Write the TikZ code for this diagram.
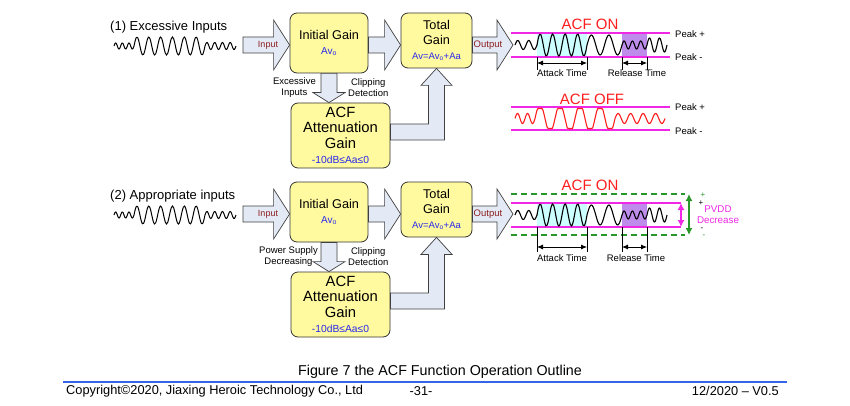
\documentclass[tikz,border=0pt]{standalone}
\usepackage{fontspec}
\setmainfont{Liberation Sans}
\usetikzlibrary{calc,arrows.meta}

\definecolor{boxyel}{RGB}{255,250,160}
\definecolor{arrbg}{RGB}{228,234,245}
\definecolor{lblue}{RGB}{40,40,235}
\definecolor{dred}{RGB}{140,30,30}
\definecolor{onred}{RGB}{255,30,30}
\definecolor{pk}{RGB}{240,40,230}
\definecolor{gdash}{RGB}{40,150,40}
\definecolor{cyanbg}{RGB}{204,255,255}
\definecolor{purbg}{RGB}{190,140,235}
\definecolor{rulebl}{RGB}{51,102,230}

\newcommand\fs[2]{\fontsize{#1}{#2}\selectfont}
% block arrows: right-pointing and down-pointing
\newcommand\harr[2]{\filldraw[blk] let \p1=(#1), \p2=(#2) in
  (\x1,\y1+8pt) -- (\x2-16pt,\y1+8pt) -- (\x2-16pt,\y1+25pt) -- (\x2,\y1)
  -- (\x2-16pt,\y1-25pt) -- (\x2-16pt,\y1-8pt) -- (\x1,\y1-8pt) -- cycle;}
\newcommand\varr[2]{\filldraw[blk] let \p1=(#1), \p2=(#2) in
  (\x1-8pt,\y1) -- (\x1-8pt,\y2+10pt) -- (\x1-16pt,\y2+10pt) -- (\x1,\y2)
  -- (\x1+16pt,\y2+10pt) -- (\x1+8pt,\y2+10pt) -- (\x1+8pt,\y1) -- cycle;}
\newcommand\onwave[1]{\foreach \xa/\xb/\k/\h in
  {515/537/4/4.5,537/587/8/11,587/622/4/10,622/647/6/4,647/667/4/7}
  {\draw[wave] plot[domain=\xa:\xb,samples=40,smooth]
     (\x,{#1-\h*sin(180*\k/(\xb-\xa)*(\x-\xa))});}}

\begin{document}
\begin{tikzpicture}[x=1pt,y=-1pt,
    box/.style={draw=black!80,fill=boxyel,rounded corners=7pt,line width=0.8pt,align=center,inner sep=0pt},
    blk/.style={draw=black!75,fill=arrbg,line width=0.7pt},
    lab/.style={inner sep=0pt,align=center,font=\fs{9.5}{11}},
    peak/.style={inner sep=0pt,anchor=west,font=\fs{9.5}{11}},
    acfon/.style={inner sep=0pt,text=onred,font=\fs{15}{15}},
    wave/.style={line width=1.1pt},
    pkline/.style={draw=pk,line width=1.2pt},
    gline/.style={draw=gdash,line width=1.2pt,dash pattern=on 6pt off 4pt},
    tick/.style={line width=0.8pt},
    dim/.style={line width=0.8pt,{Latex[length=6pt,width=5pt]}-{Latex[length=6pt,width=5pt]}}]
  \path[fill=white,use as bounding box] (0,0) rectangle (850,406);

  % the two block diagrams
  \foreach \pn/\dy/\ttl/\dnl/\dx in {1/0/{(1) Excessive Inputs}/{Excessive\\Inputs}/316,
      2/169/{(2) Appropriate inputs}/{Power Supply\\Decreasing}/318}{
  \begin{scope}[shift={(0,\dy)}]
    \node[inner sep=0pt,anchor=west,font=\fs{13}{15}] (ttl\pn) at (110,27) {\ttl};
    \foreach \xa/\xb/\k/\h in {114/134/6/3,134/205/12/9,205/236/8/3.5}
      \draw[line width=1pt] plot[domain=\xa:\xb,samples=60,smooth]
        (\x,{46-\h*sin(180*\k/(\xb-\xa)*(\x-\xa))});
    \node[box,minimum width=78pt,minimum height=60pt,font=\fs{12.7}{15}] (ig\pn) at (329,43)
      {Initial Gain\\{\color{lblue}\fs{10}{12}Av\textsubscript{o}}};
    \node[box,minimum width=71pt,minimum height=55pt,font=\fs{12.7}{15}] (tg\pn) at (436.5,40.5)
      {Total\\Gain\\{\color{lblue}\fs{9.5}{12}Av=Av\textsubscript{o}+Aa}};
    \node[box,minimum width=99pt,minimum height=65pt,font=\fs{14.8}{15.5}] (acf\pn) at (340.5,135.5)
      {ACF\\Attenuation\\Gain\\{\color{lblue}\fs{10.3}{13}-10dB≤Aa≤0}};
    \coordinate (in\pn) at (243,45);
    \coordinate (out\pn) at (513,45);
    \harr{in\pn}{ig\pn.west}
    \harr{ig\pn.east |- in\pn}{tg\pn.west}
    \harr{tg\pn.east |- in\pn}{out\pn}
    \varr{ig\pn.south}{acf\pn.north}
    \filldraw[blk] let \p1=([yshift=3.5pt]acf\pn.east), \p2=(tg\pn.south) in
      (\x1,\y1+8pt) -- (\x2-8pt,\y1+8pt) -- (\x2-8pt,\y2-17pt) -- (\x2-15.5pt,\y2-17pt)
      -- (\x2,\y2) -- (\x2+15.5pt,\y2-17pt) -- (\x2+8pt,\y2-17pt) -- (\x2+8pt,\y1-8pt)
      -- (\x1,\y1-8pt) -- cycle;
    \node[inner sep=0pt,text=dred,font=\fs{9}{10}] (inl\pn) at (268,45) {Input};
    \node[inner sep=0pt,text=dred,font=\fs{9.5}{10}] (outl\pn) at (488,45) {Output};
    \node[lab,anchor=east] (dn\pn) at (\dx,88) {\dnl};
    \node[lab,anchor=west] (cl\pn) at (348,88) {Clipping\\Detection};
  \end{scope}}

  % ACF ON (excessive inputs)
  \fill[cyanbg] (537,33) rectangle (587,57);
  \fill[purbg] (622,33) rectangle (647,57);
  \draw[pkline] (511,33) -- (670,33) (511,57) -- (670,57);
  \onwave{45}
  \node[acfon] (on1) at (590,24) {ACF ON};
  \node[peak] (pp1) at (675,34) {Peak +};
  \node[peak] (pm1) at (675,57) {Peak -};
  \draw[tick] (537,57) -- (537,70) (587,57) -- (587,70) (622,57) -- (622,70) (647,57) -- (647,70);
  \coordinate (a1) at (537,63); \coordinate (a2) at (587,63);
  \coordinate (r1) at (622,63); \coordinate (r2) at (647,63);
  \draw[dim] (a1) -- (a2);
  \draw[dim] (r1) -- (r2);
  \node[lab] (at1) at (562,73.5) {Attack Time};
  \node[lab] (rt1) at (637,73.5) {Release Time};

  % ACF OFF
  \draw[pkline] (511,107) -- (670,107) (511,130) -- (670,130);
  \foreach \xa/\xb/\k/\h in {515/535/4/5,535/615/8/14,615/665/8/5}
    \draw[wave,onred] plot[domain=\xa:\xb,samples=80,smooth]
      (\x,{118.5-max(-10,min(10,\h*sin(180*\k/(\xb-\xa)*(\x-\xa))))});
  \node[acfon] (off1) at (592,99) {ACF OFF};
  \node[peak] (pp2) at (675,107) {Peak +};
  \node[peak] (pm2) at (675,131) {Peak -};

  % ACF ON (appropriate inputs)
  \fill[cyanbg] (537,203) rectangle (587,227);
  \fill[purbg] (622,203) rectangle (647,227);
  \draw[gline] (511,194) -- (685,194) (511,235) -- (685,235);
  \draw[pkline] (511,203) -- (681,203) (511,227) -- (681,227);
  \onwave{215}
  \node[acfon] (on2) at (590,185) {ACF ON};
  \draw[tick] (537,227) -- (537,252) (587,227) -- (587,252) (622,227) -- (622,252) (647,227) -- (647,252);
  \coordinate (a3) at (537,247); \coordinate (a4) at (587,247);
  \coordinate (r3) at (622,247); \coordinate (r4) at (647,247);
  \draw[dim] (a3) -- (a4);
  \draw[dim] (r3) -- (r4);
  \node[lab] (at2) at (562,258.5) {Attack Time};
  \node[lab] (rt2) at (636,258.5) {Release Time};
  \coordinate (pv1) at (681,203); \coordinate (pv2) at (681,227);
  \coordinate (gd1) at (689,194); \coordinate (gd2) at (689,235);
  \draw[pk,line width=1.6pt,{Latex[length=7pt,width=7pt]}-{Latex[length=7pt,width=7pt]}] (pv1) -- (pv2);
  \draw[gdash,line width=1.3pt,{Latex[length=7pt,width=7pt]}-{Latex[length=7pt,width=7pt]}] (gd1) -- (gd2);
  \node[inner sep=0pt,text=gdash,font=\fs{8}{8}] (gp) at (703,195) {+};
  \node[inner sep=0pt,font=\fs{8}{8}] (bp) at (701,203) {+};
  \node[inner sep=0pt,text=pk,align=center,font=\fs{9.8}{11}] (pvdd) at (718,214.5) {PVDD\\Decrease};
  \node[inner sep=0pt,font=\fs{8}{8}] (bm) at (702,229) {-};
  \node[inner sep=0pt,text=gdash,font=\fs{8}{8}] (gm) at (704,236) {-};

  % caption and footer
  \node[inner sep=0pt,font=\fs{14.3}{15}] (cap) at (440,372) {Figure 7 the ACF Function Operation Outline};
  \draw[rulebl,line width=2pt] (63,382) -- (787,382);
  \node[inner sep=0pt,anchor=west,font=\fs{12.8}{14}] (copy) at (66,391) {Copyright©2020, Jiaxing Heroic Technology Co., Ltd};
  \node[inner sep=0pt,font=\fs{12.8}{14}] (pg) at (421,391) {-31-};
  \node[inner sep=0pt,anchor=east,font=\fs{12.8}{14}] (ver) at (779,391) {12/2020 – V0.5};
\end{tikzpicture}
\end{document}
